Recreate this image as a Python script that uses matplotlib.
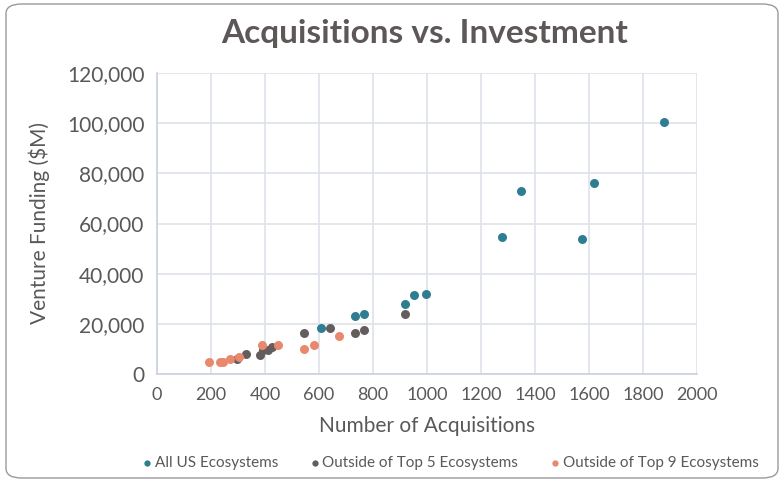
from matplotlib import pyplot as plt
from matplotlib.patches import FancyBboxPatch
from matplotlib.ticker import FuncFormatter

# values
all_us_x = [608, 732, 765, 920, 953, 997, 1276, 1347, 1575, 1619, 1878]
all_us_y = [18400, 23300, 24000, 28000, 31400, 32000, 54500, 72800, 53900, 76200, 100500]

top5_x = [297, 331, 381, 392, 410, 427, 543, 642, 732, 765, 920]
top5_y = [6000, 8000, 7600, 9600, 9600, 10900, 16400, 18400, 16400, 17700, 24000]

top9_x = [194, 232, 244, 271, 302, 389, 448, 543, 581, 674]
top9_y = [4700, 4700, 4700, 6000, 6900, 11700, 11700, 10100, 11700, 15000]

series_names = ["All US Ecosystems", "Outside of Top 5 Ecosystems", "Outside of Top 9 Ecosystems"]
colors = ["#2E7D91", "#655D5D", "#E8896E"]

txt = "#595959"
plt.rcParams['font.family'] = ['Lato', 'DejaVu Sans']

fig = plt.figure(figsize=(7.81, 4.82), dpi=100)
ax = fig.add_axes([157/781, 1-374/482, 540/781, 301/482])

for xs, ys, c, name in zip([all_us_x, top5_x, top9_x], [all_us_y, top5_y, top9_y], colors, series_names):
    ax.scatter(xs, ys, s=42, color=c, label=name, zorder=3, linewidths=0)

ax.set_xlim(0, 2000)
ax.set_ylim(0, 120000)
ax.set_xticks(range(0, 2001, 200))
ax.set_yticks(range(0, 120001, 20000))
ax.yaxis.set_major_formatter(FuncFormatter(lambda v, p: f"{int(v):,}"))
ax.grid(True, color="#DEE2EA", linewidth=1.2, zorder=0)
ax.tick_params(length=0, colors=txt)
ax.tick_params(axis='y', labelsize=15, pad=9)
ax.tick_params(axis='x', labelsize=13, pad=9)
for s in ["top", "right"]:
    ax.spines[s].set_visible(False)
for s in ["left", "bottom"]:
    ax.spines[s].set_color("#C9D2E0")
    ax.spines[s].set_linewidth(1.2)

ax.set_xlabel("Number of Acquisitions", fontsize=15, color=txt, labelpad=10)
ax.set_ylabel("Venture Funding ($M)", fontsize=15, color=txt, labelpad=12)

fig.text(425/781, 1-34/482, "Acquisitions vs. Investment", ha="center", va="center",
         fontsize=24, fontweight="bold", color="#5E5757")

leg = fig.legend(loc="center", bbox_to_anchor=(449/781, 1-463/482), ncol=3, frameon=False,
                 fontsize=11, handletextpad=0.0, columnspacing=1.9, markerscale=0.7,
                 labelcolor=txt, handlelength=1.0)

border = FancyBboxPatch((6/781, 4/482), 772/781, 474/482, boxstyle="round,pad=0,rounding_size=0.02",
                        transform=fig.transFigure, fill=False, edgecolor="#9A9A9A", linewidth=1)
fig.patches.append(border)

fig.savefig("out.png", dpi=100)
